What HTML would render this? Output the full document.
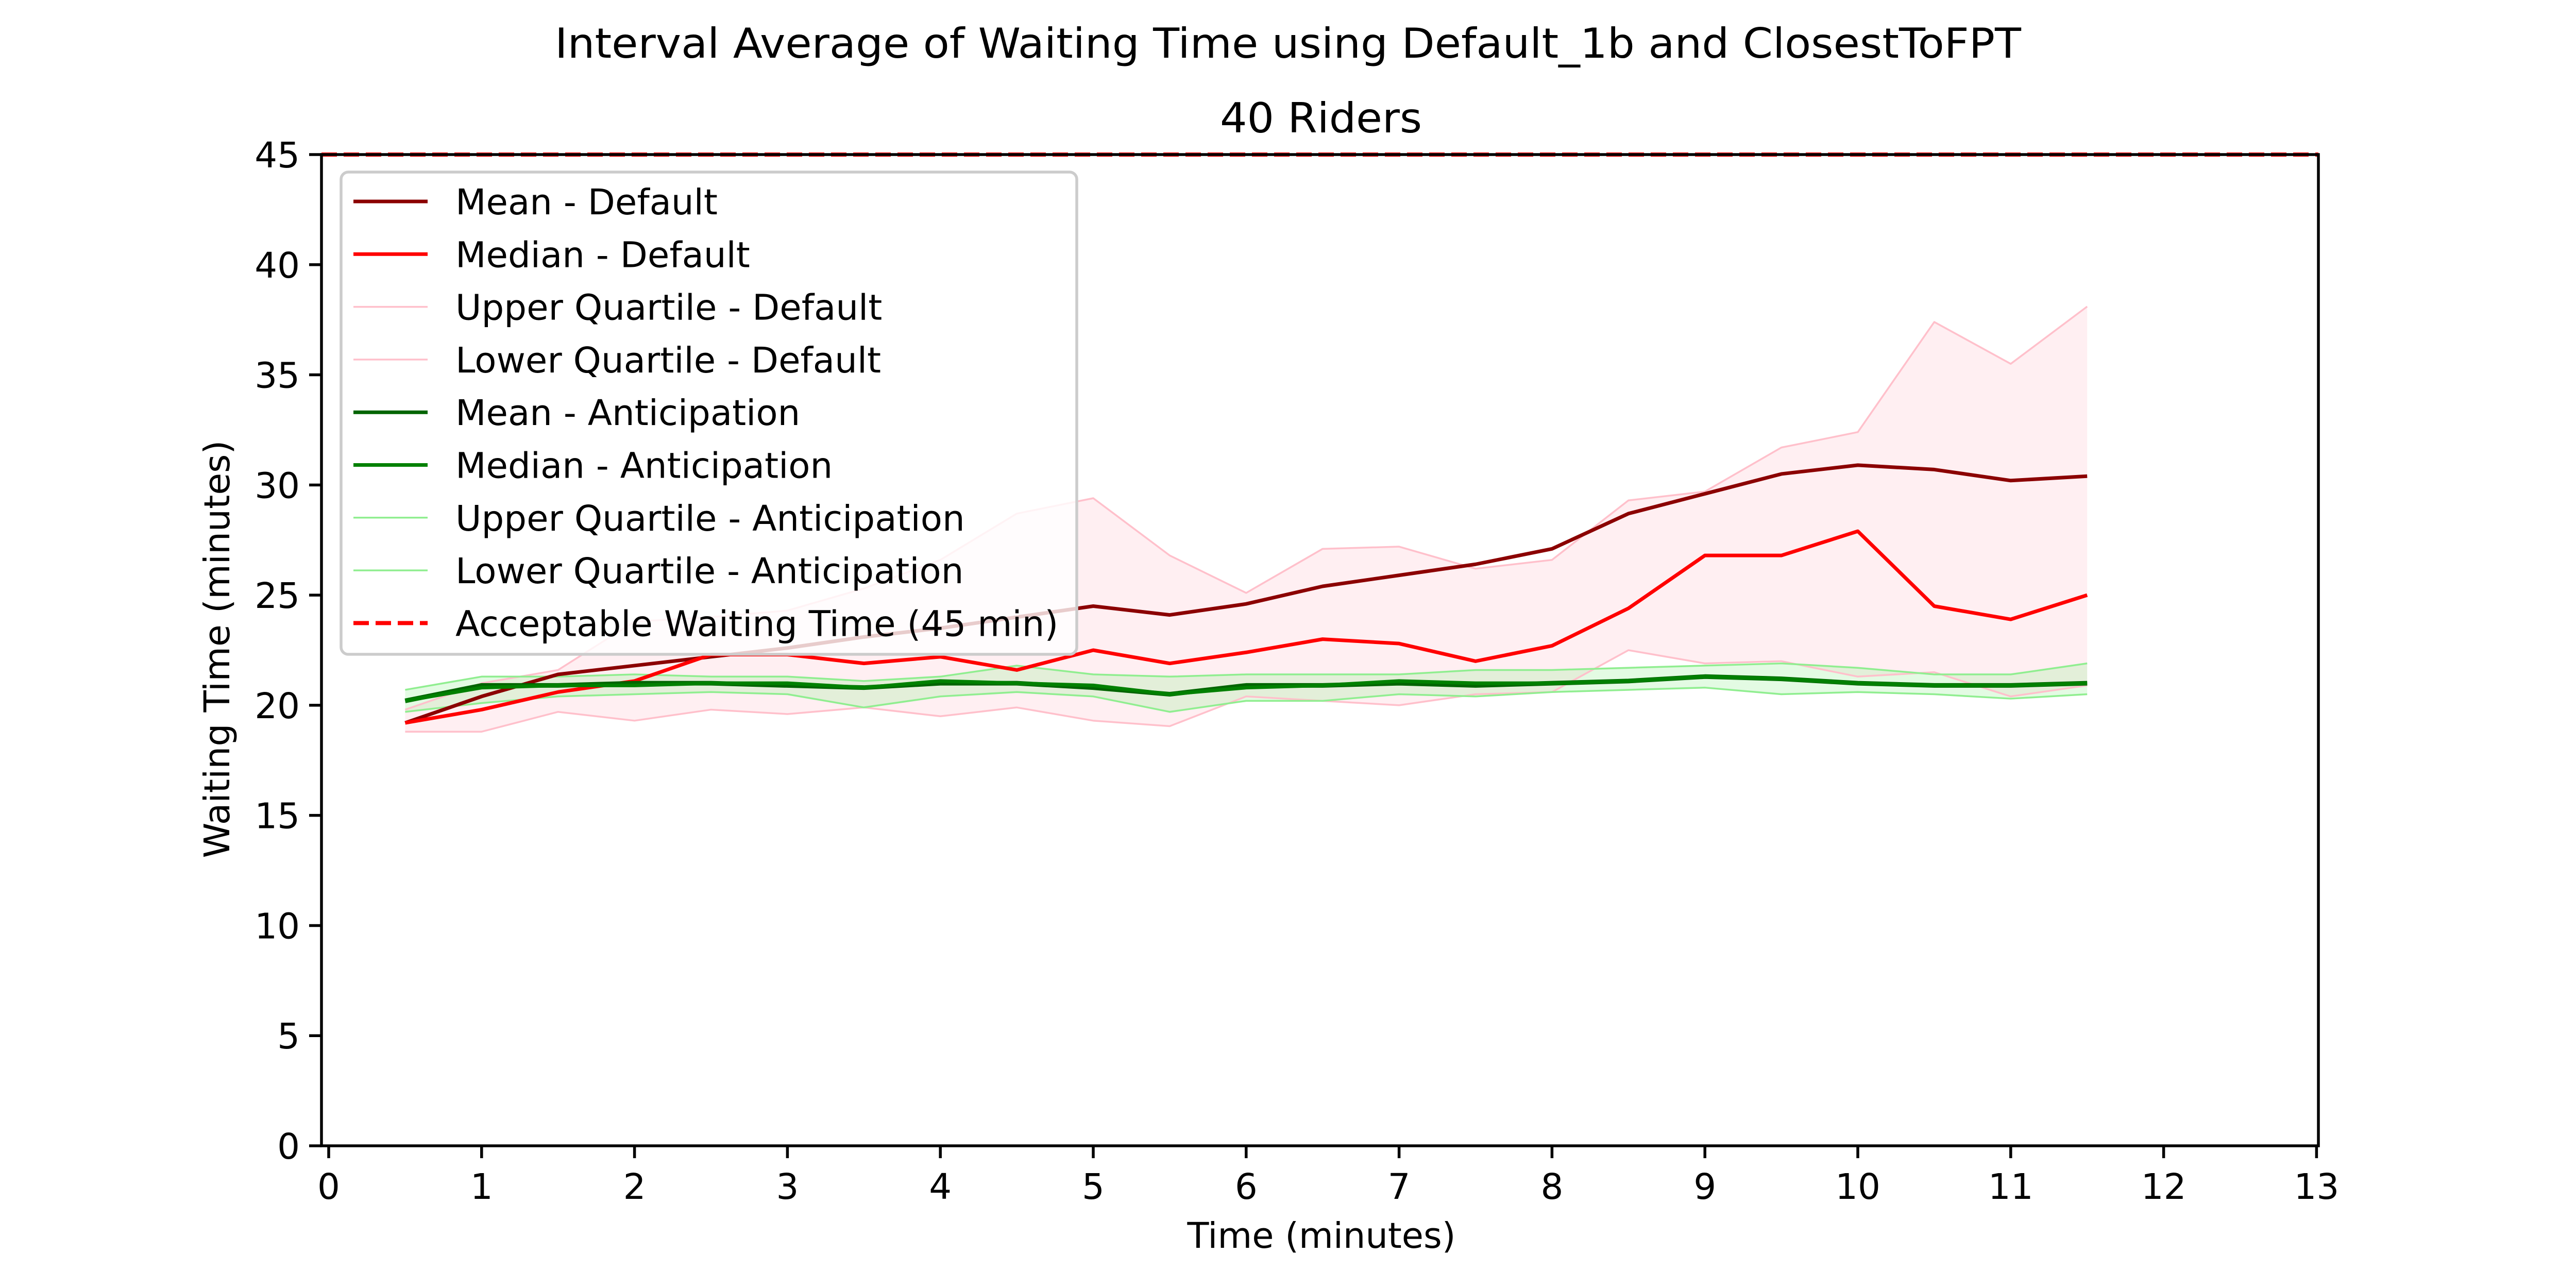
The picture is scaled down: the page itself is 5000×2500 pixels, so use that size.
<!DOCTYPE html>
<html><head><meta charset="utf-8"><style>
html,body{margin:0;padding:0;background:#fff;}
svg{display:block;font-family:"DejaVu Sans","Liberation Sans",sans-serif;}
</style></head>
<body>
<svg id="chart" xmlns="http://www.w3.org/2000/svg" width="5000" height="2500" viewBox="0 0 5000 2500">
<rect width="5000" height="2500" fill="#fff"/>
<text x="2500" y="112" font-size="80" text-anchor="middle" textLength="2846" lengthAdjust="spacingAndGlyphs">Interval Average of Waiting Time using Default_1b and ClosestToFPT</text>
<text x="2564" y="257" font-size="80" text-anchor="middle" textLength="392" lengthAdjust="spacingAndGlyphs">40 Riders</text>
<text x="2565" y="2422" font-size="69" text-anchor="middle" textLength="521" lengthAdjust="spacingAndGlyphs">Time (minutes)</text>
<text x="0" y="0" font-size="69" text-anchor="middle" textLength="811" lengthAdjust="spacingAndGlyphs" transform="translate(445,1260) rotate(-90)">Waiting Time (minutes)</text>
<g id="plot"></g>
<g id="axes"></g>
<g id="legend"></g>
</svg>
<script>
const times = [0.5,1,1.5,2,2.5,3,3.5,4,4.5,5,5.5,6,6.5,7,7.5,8,8.5,9,9.5,10,10.5,11,11.5];
const meanDefault = [19.2,20.4,21.4,21.8,22.2,22.6,23.1,23.5,24.0,24.5,24.1,24.6,25.4,25.9,26.4,27.1,28.7,29.6,30.5,30.9,30.7,30.2,30.4];
const medianDefault = [19.2,19.8,20.6,21.1,22.3,22.3,21.9,22.2,21.6,22.5,21.9,22.4,23.0,22.8,22.0,22.7,24.4,26.8,26.8,27.9,24.5,23.9,25.0];
const upperDefault = [19.8,21.0,21.6,23.8,24.0,24.3,25.3,26.6,28.7,29.4,26.8,25.1,27.1,27.2,26.2,26.6,29.3,29.7,31.7,32.4,37.4,35.5,38.1];
const lowerDefault = [18.8,18.8,19.7,19.3,19.8,19.6,19.9,19.5,19.9,19.3,19.05,20.4,20.2,20.0,20.5,20.6,22.5,21.9,22.0,21.3,21.5,20.4,20.9];
const meanAnt = [20.2,20.9,20.9,21.0,21.0,20.9,20.8,21.0,21.0,20.8,20.5,20.9,20.9,21.0,20.9,21.0,21.1,21.3,21.2,21.0,20.9,20.9,21.0];
const medianAnt = [20.2,20.8,20.9,20.9,21.0,21.0,20.8,21.1,21.0,20.9,20.5,20.8,20.9,21.1,21.0,21.0,21.1,21.3,21.2,21.0,20.9,20.9,21.0];
const upperAnt = [20.7,21.3,21.3,21.4,21.3,21.3,21.1,21.3,21.8,21.4,21.3,21.4,21.4,21.4,21.6,21.6,21.7,21.8,21.9,21.7,21.4,21.4,21.9];
const lowerAnt = [19.7,20.1,20.4,20.5,20.6,20.5,19.9,20.4,20.6,20.4,19.7,20.2,20.2,20.5,20.4,20.6,20.7,20.8,20.5,20.6,20.5,20.3,20.5];
const acceptable = 45;
const xTicks = [0,1,2,3,4,5,6,7,8,9,10,11,12,13];
const yTicks = [0,5,10,15,20,25,30,35,40,45];
const legendLabels = ["Mean - Default","Median - Default","Upper Quartile - Default","Lower Quartile - Default","Mean - Anticipation","Median - Anticipation","Upper Quartile - Anticipation","Lower Quartile - Anticipation","Acceptable Waiting Time (45 min)"];

const NS="http://www.w3.org/2000/svg";
const L=624, R=4500, T=300, B=2224;
function sx(v){return 638+v*296.8;}
function sy(v){return 2224-v*(2224-300)/45;}
function mk(tag,attrs,parent){const e=document.createElementNS(NS,tag);for(const k in attrs)e.setAttribute(k,attrs[k]);parent.appendChild(e);return e;}
const plot=document.getElementById('plot'), axes=document.getElementById('axes'), leg=document.getElementById('legend');

function fill(up,lo,color,op,name){
  let d='M'+times.map((t,i)=>sx(t)+','+sy(up[i])).join('L');
  for(let i=times.length-1;i>=0;i--) d+='L'+sx(times[i])+','+sy(lo[i]);
  const p=mk('path',{d:d+'Z',fill:color,'fill-opacity':op,stroke:'none'},plot);
  
  
}
function line(vals,color,w,name){
  const p=mk('polyline',{points:times.map((t,i)=>sx(t)+','+sy(vals[i])).join(' '),fill:'none',stroke:color,'stroke-width':w,'stroke-linejoin':'round'},plot);
  
  
}
fill(upperDefault,lowerDefault,'#ffc0cb',0.25,'default-iqr-band');
fill(upperAnt,lowerAnt,'#90ee90',0.25,'anticipation-iqr-band');
line(upperDefault,'#ffc0cb',3.5,'upper-quartile-default-line');
line(lowerDefault,'#ffc0cb',3.5,'lower-quartile-default-line');
line(upperAnt,'#90ee90',3.5,'upper-quartile-anticipation-line');
line(lowerAnt,'#90ee90',3.5,'lower-quartile-anticipation-line');
line(meanDefault,'#8b0000',7,'mean-default-line');
line(medianDefault,'#ff0000',7,'median-default-line');
line(meanAnt,'#006400',9,'mean-anticipation-line');
line(medianAnt,'#008000',7,'median-anticipation-line');
const ac=mk('line',{x1:L,x2:R,y1:sy(acceptable),y2:sy(acceptable),stroke:'#ff0000','stroke-width':8,'stroke-dasharray':'30,13'},plot);



const frame=mk('rect',{x:L,y:T,width:R-L,height:B-T,fill:'none',stroke:'#000','stroke-width':5.5},axes);


xTicks.forEach(t=>{
  const tk=mk('line',{x1:sx(t),x2:sx(t),y1:B,y2:B+24,stroke:'#000','stroke-width':5.5},axes);
  
  
  const tx=mk('text',{x:sx(t),y:2327,'font-size':69,'text-anchor':'middle'},axes);
  tx.textContent=t;
  
  
});
yTicks.forEach(t=>{
  const tk=mk('line',{x1:L-24,x2:L,y1:sy(t),y2:sy(t),stroke:'#000','stroke-width':5.5},axes);
  
  
  const tx=mk('text',{x:582,y:sy(t)+25,'font-size':69,'text-anchor':'end'},axes);
  tx.textContent=t;
  
  
});

const box=mk('rect',{x:662,y:334,width:1428,height:936,rx:14,fill:'#fff','fill-opacity':0.8,stroke:'#cccccc','stroke-width':5.5},leg);


const styles=[['#8b0000',7,''],['#ff0000',7,''],['#ffc0cb',3.5,''],['#ffc0cb',3.5,''],['#006400',7,''],['#008000',7,''],['#90ee90',3.5,''],['#90ee90',3.5,''],['#ff0000',8,'30,13']];
legendLabels.forEach((lab,i)=>{
  const y=391+i*102.3;
  const g=mk('g',{},leg);
  
  
  mk('line',{x1:686,x2:830,y1:y,y2:y,stroke:styles[i][0],'stroke-width':styles[i][1],'stroke-dasharray':styles[i][2]||'none'},g);
  const tx=mk('text',{x:884,y:y+25,'font-size':69},g);
  tx.textContent=lab;
});
</script>
</body></html>
